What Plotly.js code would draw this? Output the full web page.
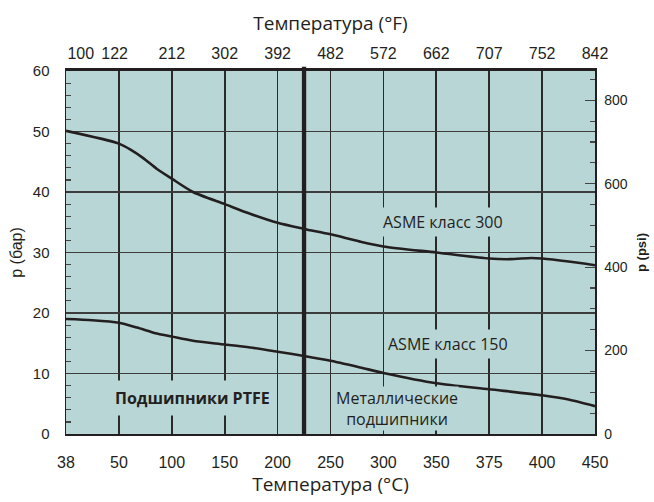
<!DOCTYPE html>
<html>
<head>
<meta charset="utf-8">
<script src="https://cdn.plot.ly/plotly-3.0.1.min.js"></script>
<style>
html,body{margin:0;padding:0;background:#ffffff;}
#chart{width:654px;height:502px;}
</style>
</head>
<body>
<div id="chart"></div>
<script>
// ---- data ----
const tempC = [38, 50, 100, 150, 200, 250, 300, 350, 375, 400, 450];
const tempCLabels = ['38', '50', '100', '150', '200', '250', '300', '350', '375', '400', '450'];
const tempFLabels = ['100', '122', '212', '302', '392', '482', '572', '662', '707', '752', '842'];
const pressureBarTicks = [0, 10, 20, 30, 40, 50, 60];
const pressurePsiTicks = [0, 200, 400, 600, 800];

const asme300TempC = [38, 50, 61, 73, 86, 100, 120, 150, 174, 200, 225, 250, 278, 300, 350, 375, 385, 395, 400, 425, 450];
const asme300Bar   = [50.1, 48.0, 47.0, 45.6, 43.8, 42.2, 40.0, 38.0, 36.4, 34.9, 33.9, 33.0, 31.8, 31.0, 30.0, 29.0, 28.9, 29.1, 29.0, 28.5, 27.9];

const asme150TempC = [38, 44, 50, 67, 86, 100, 120, 150, 174, 200, 225, 250, 278, 300, 350, 375, 400, 425, 450];
const asme150Bar   = [19.0, 18.8, 18.4, 17.6, 16.6, 16.1, 15.4, 14.8, 14.3, 13.6, 12.9, 12.1, 11.0, 10.1, 8.4, 7.4, 6.4, 5.7, 4.6];

const bearingLimitC = 225;
const BAR_TO_PSI = 14.5038;

// ---- scale: the chart's temperature axis is evenly spaced per tick (piecewise linear) ----
function tempPos(t) {
  for (let i = 0; i < tempC.length - 1; i++) {
    if (t <= tempC[i + 1]) return i + (t - tempC[i]) / (tempC[i + 1] - tempC[i]);
  }
  return tempC.length - 1;
}

const ink = '#231f20';
const plotBg = '#b8d6d5';
const tickIdx = tempC.map((_, i) => i);
const topIdx = tickIdx.map((v, i) => i === 0 ? v + 0.28 : (i === 1 ? v - 0.08 : v));

const traces = [
  {
    x: asme300TempC.map(tempPos), y: asme300Bar,
    xaxis: 'x', yaxis: 'y', mode: 'lines', name: 'ASME класс 300',
    line: {color: ink, width: 2.6, shape: 'spline', smoothing: 0.7},
    hoverinfo: 'skip', showlegend: false
  },
  {
    x: asme150TempC.map(tempPos), y: asme150Bar.map(v => v * BAR_TO_PSI),
    xaxis: 'x2', yaxis: 'y2', mode: 'lines', name: 'ASME класс 150',
    line: {color: ink, width: 2.6, shape: 'spline', smoothing: 0.7},
    hoverinfo: 'skip', showlegend: false
  }
];

const annFont = {family: 'Open Sans, sans-serif', size: 16, color: ink};
const titleFont = {family: 'Open Sans, sans-serif', size: 19, color: ink};

const layout = {
  width: 654, height: 502,
  margin: {l: 66, r: 59, t: 71, b: 68, pad: 0},
  paper_bgcolor: '#ffffff',
  plot_bgcolor: plotBg,
  showlegend: false,
  font: {family: 'Liberation Sans, Arial, sans-serif', size: 14, color: ink},
  xaxis: {
    range: [0, 10], tickmode: 'array', tickvals: tickIdx, ticktext: tempCLabels,
    ticks: '', ticklabelstandoff: 13, tickfont: {size: 16, color: ink},
    showgrid: true, gridcolor: '#2a2a2a', gridwidth: 1.6,
    zeroline: false, showline: true, linecolor: ink, linewidth: 1.5,
    automargin: false, fixedrange: true,
    title: {text: 'Температура (°C)', font: titleFont, standoff: 4}
  },
  xaxis2: {
    overlaying: 'x', side: 'top', anchor: 'y',
    range: [0, 10], tickmode: 'array', tickvals: topIdx, ticktext: tempFLabels,
    ticks: '', ticklabelstandoff: 3, tickfont: {size: 16, color: ink},
    showgrid: false, zeroline: false, showline: true, linecolor: ink, linewidth: 3,
    automargin: false, fixedrange: true,
    title: {text: 'Температура (°F)', font: titleFont, standoff: 9}
  },
  yaxis: {
    range: [0, 60], tickmode: 'linear', tick0: 0, dtick: 10,
    ticks: '', ticklabelstandoff: 12, tickfont: {size: 15, color: ink},
    showgrid: true, gridcolor: '#3c3c3c', gridwidth: 1.4,
    zeroline: false, showline: true, linecolor: ink, linewidth: 1.5,
    minor: {ticks: 'inside', tick0: 0, dtick: 2, ticklen: 5, tickwidth: 1.2, tickcolor: '#444444', showgrid: false},
    automargin: false, fixedrange: true,
    title: {text: 'p (бар)', font: {size: 16, color: ink}, standoff: 6}
  },
  yaxis2: {
    overlaying: 'y', side: 'right', anchor: 'x',
    range: [0, 60 * BAR_TO_PSI], tickmode: 'linear', tick0: 0, dtick: 200,
    ticks: 'inside', ticklen: 10, tickwidth: 1.2, tickcolor: '#444444', ticklabelstandoff: 5,
    tickfont: {size: 14, color: ink},
    showgrid: false, zeroline: false, showline: true, linecolor: ink, linewidth: 1.5,
    minor: {ticks: 'inside', tick0: 0, dtick: 50, ticklen: 5, tickwidth: 1.2, tickcolor: '#444444', showgrid: false},
    automargin: false, fixedrange: true,
    title: {text: '<b>p (psi)</b>', font: {size: 13, color: ink}, standoff: 10}
  },
  shapes: [
    {type: 'line', xref: 'x', yref: 'paper', x0: tempPos(bearingLimitC), x1: tempPos(bearingLimitC),
     y0: 0, y1: 1.012, line: {color: ink, width: 4.3}}
  ],
  annotations: [
    {xref: 'x', yref: 'y', x: 7.13, y: 35.1, text: 'ASME класс 300', showarrow: false,
     font: annFont, bgcolor: plotBg, borderpad: 3},
    {xref: 'x', yref: 'y', x: 7.22, y: 14.8, text: 'ASME класс 150', showarrow: false,
     font: annFont, bgcolor: plotBg, borderpad: 3},
    {xref: 'x', yref: 'y', x: 6.26, y: 4.2, text: 'Металлические<br>подшипники', showarrow: false,
     font: annFont, bgcolor: plotBg, borderpad: 0},
    {xref: 'x', yref: 'y', x: 2.4, y: 5.95, text: '<b>Подшипники PTFE</b>', showarrow: false,
     font: annFont, bgcolor: plotBg, borderpad: 6}
  ]
};

Plotly.newPlot('chart', traces, layout, {staticPlot: true, displayModeBar: false});
</script>
</body>
</html>
